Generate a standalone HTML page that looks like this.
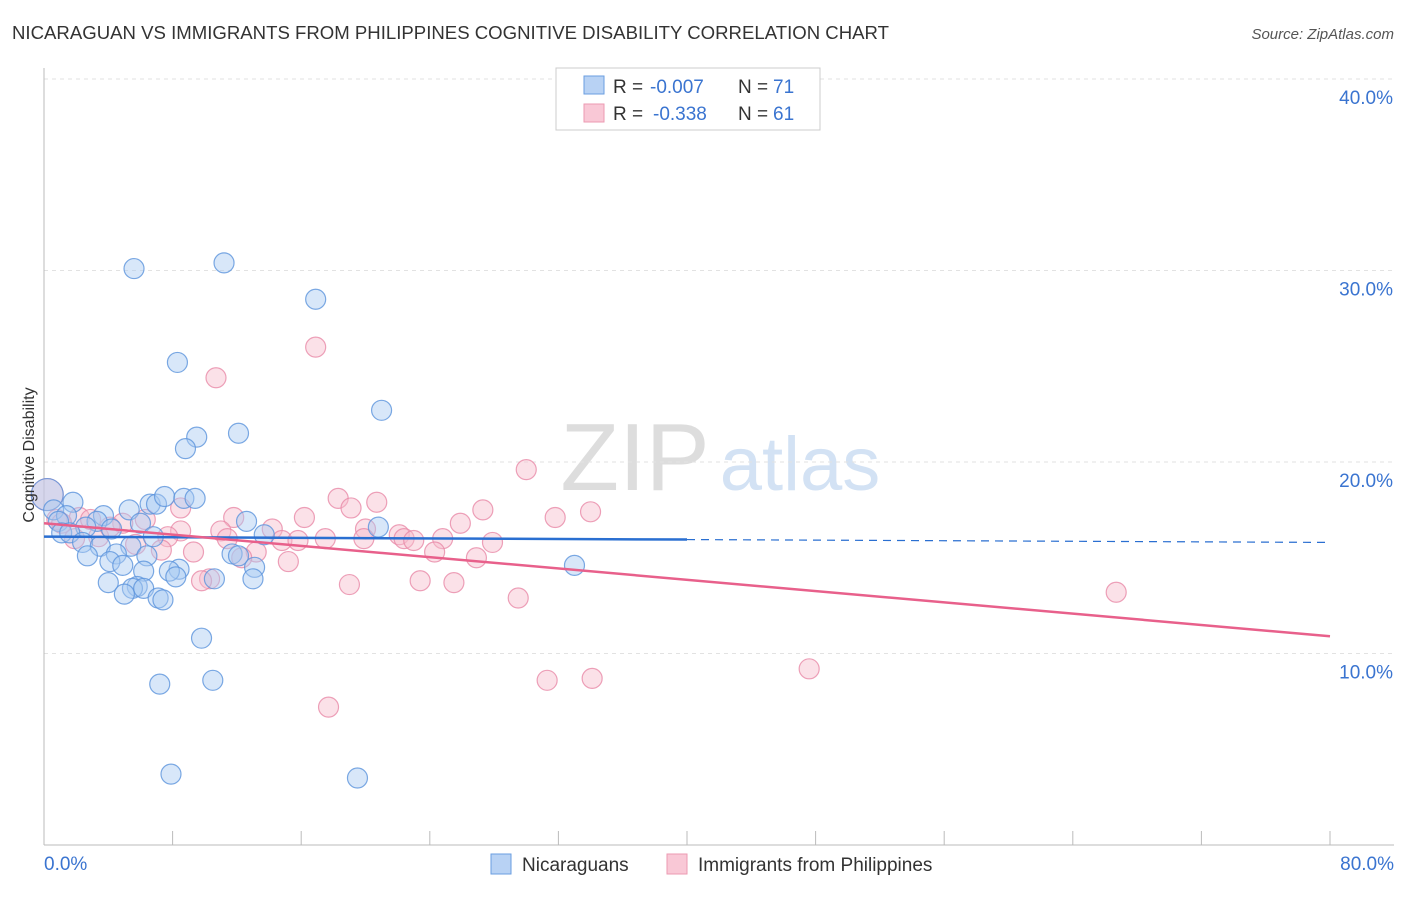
<!DOCTYPE html>
<html><head><meta charset="utf-8"><style>
body{margin:0;background:#fff;font-family:"Liberation Sans",sans-serif;}
svg text{font-family:"Liberation Sans",sans-serif;}
</style></head><body>
<svg width="1406" height="892" xmlns="http://www.w3.org/2000/svg" id="chart">
<text x="12" y="39" font-size="18" fill="#333" textLength="877" lengthAdjust="spacingAndGlyphs">NICARAGUAN VS IMMIGRANTS FROM PHILIPPINES COGNITIVE DISABILITY CORRELATION CHART</text>
<text x="1394" y="39" font-size="15" fill="#555" font-style="italic" text-anchor="end">Source: ZipAtlas.com</text>
<text x="635" y="490" font-size="96" fill="#ddd" font-family="Liberation Serif" text-anchor="middle">ZIP</text>
<text x="800" y="490" font-size="76" fill="#d3e2f4" text-anchor="middle">atlas</text>
<g id="grid"></g><g id="axes"></g><g id="pts"></g><g id="trend"></g>
<text transform="translate(34,455) rotate(-90)" font-size="16" fill="#333" text-anchor="middle">Cognitive Disability</text>
<g>
<rect x="556" y="68" width="264" height="62" fill="#fff" stroke="#ccc"/>
<rect x="584" y="76" width="20" height="18" fill="#b8d2f4" stroke="#6a9ee0"/>
<rect x="584" y="104" width="20" height="18" fill="#f9c8d6" stroke="#ec9ab2"/>
<text x="613" y="93" font-size="19" fill="#333">R =</text>
<text x="650" y="93" font-size="19" fill="#3a74d0">-0.007</text>
<text x="738" y="93" font-size="19" fill="#333">N =</text>
<text x="773" y="93" font-size="19" fill="#3a74d0">71</text>
<text x="613" y="120" font-size="19" fill="#333">R =</text>
<text x="653" y="120" font-size="19" fill="#3a74d0">-0.338</text>
<text x="738" y="120" font-size="19" fill="#333">N =</text>
<text x="773" y="120" font-size="19" fill="#3a74d0">61</text>
</g>
<g>
<rect x="491" y="854" width="20" height="20" fill="#b8d2f4" stroke="#6a9ee0"/>
<text x="522" y="871" font-size="19" fill="#333">Nicaraguans</text>
<rect x="667" y="854" width="20" height="20" fill="#f9c8d6" stroke="#ec9ab2"/>
<text x="698" y="871" font-size="19" fill="#333">Immigrants from Philippines</text>
</g>
</svg>
<script>
const yTicks=[10,20,30,40];
const xTickLabels=["0.0%","80.0%"];
const blueX=[5.6,11.2,16.9,8.3,21.0,12.1,9.5,8.8,0.2,1.8,5.3,6.6,7.0,7.5,8.7,9.4,0.6,1.4,3.7,3.3,6.0,12.6,20.8,2.6,0.9,1.1,1.6,4.2,6.8,13.7,2.4,3.5,5.4,11.7,12.1,4.5,6.4,2.7,4.1,4.9,13.1,33.0,6.2,8.4,7.8,8.2,10.6,13.0,4.0,5.8,5.5,6.2,5.0,7.1,7.4,9.8,7.2,10.5,7.9,19.5];
const blueY=[30.1,30.4,28.5,25.2,22.7,21.5,21.3,20.7,18.3,17.9,17.5,17.8,17.8,18.2,18.1,18.1,17.5,17.2,17.2,16.9,16.8,16.9,16.6,16.6,16.9,16.3,16.3,16.5,16.1,16.2,15.8,15.6,15.6,15.2,15.1,15.2,15.1,15.1,14.8,14.6,14.5,14.6,14.3,14.4,14.3,14.0,13.9,13.9,13.7,13.5,13.4,13.4,13.1,12.9,12.8,10.8,8.4,8.6,3.7,3.5];
const pinkX=[16.9,10.7,30.0,0.2,18.3,20.7,19.1,27.3,34.0,31.8,16.2,11.8,25.9,2.2,0.8,4.9,20.0,14.2,8.5,22.1,22.4,19.9,11.0,11.4,14.8,17.5,15.8,24.8,23.0,27.9,7.7,3.4,1.9,5.7,9.3,24.3,7.3,13.2,12.3,26.9,15.2,10.3,9.8,23.4,25.5,19.0,66.7,29.5,47.6,31.3,34.1,17.7,1.1,4.1,6.3,8.5,2.9];
const pinkY=[26.0,24.4,19.6,18.3,18.1,17.9,17.6,17.5,17.4,17.1,17.1,17.1,16.8,17.1,17.0,16.8,16.5,16.5,16.4,16.2,16.0,16.0,16.4,16.0,15.9,16.0,15.9,16.0,15.9,15.8,16.1,16.1,16.0,15.7,15.3,15.3,15.4,15.3,15.0,15.0,14.8,13.9,13.8,13.8,13.7,13.6,13.2,12.9,9.2,8.6,8.7,7.2,16.8,16.6,17.0,17.6,17.0];
const blueTrend=[16.1,15.8];
const pinkTrend=[16.8,10.9];
const NS="http://www.w3.org/2000/svg";
const X=v=>44+v/80*1286, Y=v=>845-v*19.15;
function mk(t,a,p){const e=document.createElementNS(NS,t);for(const k in a)e.setAttribute(k,a[k]);document.getElementById(p).appendChild(e);return e;}
yTicks.forEach(t=>{
 const l=mk('line',{x1:44,x2:1394,y1:Y(t),y2:Y(t),stroke:'#e2e2e2','stroke-dasharray':'4,4'},'grid');
 
 
 const tx=mk('text',{x:1393,y:Y(t)+25,'font-size':19,fill:'#3a74d0','text-anchor':'end'},'grid');
 tx.textContent=t.toFixed(1)+'%';
 
 
});
const ax=mk('line',{x1:44,x2:44,y1:68,y2:845,stroke:'#bbb'},'axes');


const bx=mk('line',{x1:44,x2:1394,y1:845,y2:845,stroke:'#bbb'},'axes');


for(let i=0;i<=10;i++){const t=mk('line',{x1:X(i*8),x2:X(i*8),y1:831,y2:845,stroke:'#bbb'},'axes');
 
 }
[[0,'start',44],[80,'end',1394]].forEach((d,i)=>{const t=mk('text',{x:d[2],y:870,'font-size':19,fill:'#3a74d0','text-anchor':d[1]},'axes');t.textContent=xTickLabels[i];
 
 });
function pts(xs,ys,f,s,name){xs.forEach((x,i)=>{const c=mk('circle',{cx:X(x),cy:Y(ys[i]),r:(x<0.5?16:10),fill:f,'fill-opacity':0.45,stroke:s,'stroke-opacity':0.8,'stroke-width':1.2},'pts');
 
 });}
pts(pinkX,pinkY,'#f7bccd','#e98aa8','philippines-point');
pts(blueX,blueY,'#a9c9f1','#5b93dc','nicaraguan-point');
const b1=mk('line',{x1:X(0),y1:Y(blueTrend[0]),x2:X(40),y2:Y((blueTrend[0]+blueTrend[1])/2),stroke:'#2a6fd1','stroke-width':2.5},'trend');


const b2=mk('line',{x1:X(40),y1:Y((blueTrend[0]+blueTrend[1])/2),x2:X(80),y2:Y(blueTrend[1]),stroke:'#2a6fd1','stroke-width':1.2,'stroke-dasharray':'8,6'},'trend');


const p1=mk('line',{x1:X(0),y1:Y(pinkTrend[0]),x2:X(80),y2:Y(pinkTrend[1]),stroke:'#e8608b','stroke-width':2.5},'trend');


</script>
</body></html>
